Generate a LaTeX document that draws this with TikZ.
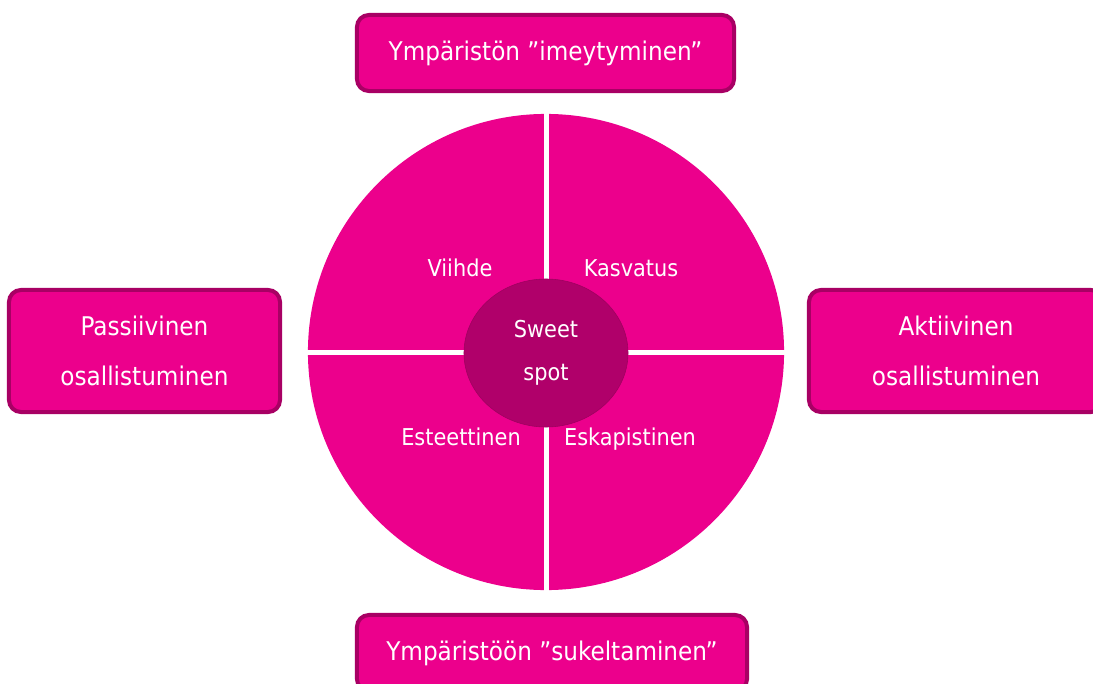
\documentclass[tikz,border=0pt]{standalone}
\usepackage{fontspec}
\setmainfont{DejaVu Sans Condensed}
\usetikzlibrary{shapes.geometric}
\definecolor{pinkfill}{HTML}{EC008C}
\definecolor{pinkedge}{HTML}{A80064}
\definecolor{pinkspot}{HTML}{B0006A}
\tikzset{
  sidebox/.style={draw=pinkedge, fill=pinkfill, line width=0.1cm, rounded corners=0.3cm,
    text=white, font=\fontsize{18.3}{35}\selectfont, align=center, inner sep=0pt},
  quarter/.style={text=white, font=\fontsize{16.5}{20}\selectfont, anchor=base},
}

\begin{document}
\begin{tikzpicture}[x=0.025cm, y=-0.025cm]
			%%%%% START %%%%%
			\useasboundingbox (0,0) rectangle (1093,684);
			
			\fill[pinkfill] (546,352) circle[radius=5.95cm];
			\draw[white, line width=0.125cm] (546,110) -- (546,594);
			\draw[white, line width=0.125cm] (304,352) -- (788,352);
			
			\node[ellipse, minimum width=4.1cm, minimum height=3.7cm, inner sep=0pt,
			  fill=pinkspot, draw=pinkspot!90!black, text=white,
			  font=\fontsize{16.5}{31}\selectfont, align=center] (hub) at (546,353) {Sweet\\spot};
			
			\node[quarter] (viihde) at (460,276) {Viihde};
			\node[quarter] (kasvatus) at (631,276) {Kasvatus};
			\node[quarter] (esteet) at (461,445) {Esteettinen};
			\node[quarter] (eskap) at (630,445) {Eskapistinen};
			
			\node[sidebox, minimum width=9.425cm, minimum height=1.9cm] (imeytyminen) at (545.5,53) {Ympäristön ”imeytyminen”};
			\node[sidebox, minimum width=9.75cm, minimum height=1.9cm] (sukeltaminen) at (552,653) {Ympäristöön ”sukeltaminen”};
			\node[sidebox, minimum width=6.775cm, minimum height=3.05cm] (passiivinen) at (144.5,351) {Passiivinen\\osallistuminen};
			\node[sidebox, minimum width=7.35cm, minimum height=3.05cm] (aktiivinen) at (956,351) {Aktiivinen\\osallistuminen};
			
			%%%%% END %%%%%
\end{tikzpicture}
\end{document}
